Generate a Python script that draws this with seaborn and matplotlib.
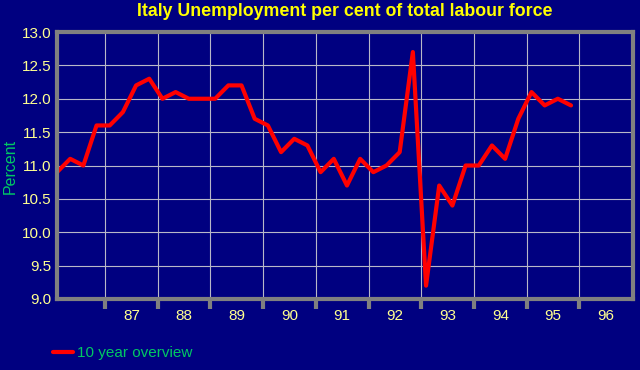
import matplotlib
matplotlib.use("Agg")
import matplotlib.pyplot as plt
import seaborn as sns
import pandas as pd
import numpy as np

# Quarterly unemployment values (per cent of total labour force)
values = [10.9, 11.1, 11.0, 11.6, 11.6, 11.8, 12.2, 12.3, 12.0, 12.1,
          12.0, 12.0, 12.0, 12.2, 12.2, 11.7, 11.6, 11.2, 11.4, 11.3,
          10.9, 11.1, 10.7, 11.1, 10.9, 11.0, 11.2, 12.7, 9.2, 10.7,
          10.4, 11.0, 11.0, 11.3, 11.1, 11.7, 12.1, 11.9, 12.0, 11.9]
year_labels = ["87", "88", "89", "90", "91", "92", "93", "94", "95", "96"]
y_ticks = [9.0, 9.5, 10.0, 10.5, 11.0, 11.5, 12.0, 12.5, 13.0]

title = "Italy Unemployment per cent of total labour force"
series_name = "10 year overview"

BG = "#000080"
GRID = "#b8b8c8"
BORDER = "#808080"
YELLOW = "#ffff00"
TICKYEL = "#ffff90"
GREEN = "#00c864"
RED = "#ff0000"

df = pd.DataFrame({"q": np.arange(len(values)), "v": values})

sns.set_theme(style="dark")
plt.rcParams["font.family"] = ["Liberation Sans", "DejaVu Sans"]

fig = plt.figure(figsize=(6.4, 3.7), dpi=100, facecolor=BG)
ax = fig.add_axes([57/640, 1-299/370, (633-57)/640, (299-32)/370])
ax.set_facecolor(BG)

sns.lineplot(data=df, x="q", y="v", ax=ax, color=RED, linewidth=3.0,
             label=series_name, legend=False)

# axis geometry: first quarter at left edge, year boundaries every 4 quarters
q_per_px = 1/13.18
first_grid = (105-57)*q_per_px
grid_pos = [first_grid + 4*k for k in range(len(year_labels))]
label_pos = [g + 2 for g in grid_pos]
ax.set_xlim(0, (633-57)*q_per_px)
ax.set_ylim(9.0, 13.0)

ax.set_xticks(grid_pos)
ax.set_xticklabels([])
ax.set_xticks(label_pos, minor=True)
ax.set_xticklabels(year_labels, minor=True)
ax.tick_params(axis="x", which="major", length=7, width=3, color=BORDER,
               direction="out", bottom=True)
ax.tick_params(axis="x", which="minor", length=0, pad=7, labelsize=11,
               labelcolor=TICKYEL)
ax.set_yticks(y_ticks)
ax.set_yticklabels([f"{t:.1f}" for t in y_ticks])
ax.tick_params(axis="y", length=0, pad=4, labelsize=11, labelcolor=TICKYEL)

ax.grid(True, which="major", color=GRID, linewidth=0.8)
ax.set_axisbelow(True)
for s in ax.spines.values():
    s.set_visible(True)
    s.set_color(BORDER)
    s.set_linewidth(3)

ax.set_xlabel("")
ax.set_ylabel("")
fig.text(10/640, 1-166/370, "Percent", color=GREEN, fontsize=11.5,
         rotation=90, ha="center", va="center")

fig.text(345/640, 1-12/370, title, color=YELLOW, fontsize=12.8,
         fontweight="bold", ha="center", va="center")

leg = fig.legend(loc="center left", bbox_to_anchor=(53/640, 1-353/370),
                 frameon=False, fontsize=11, handlelength=1.3,
                 handletextpad=0.25, borderaxespad=0, borderpad=0)
for t in leg.get_texts():
    t.set_color(GREEN)

fig.savefig("out.png", dpi=100, facecolor=BG)
